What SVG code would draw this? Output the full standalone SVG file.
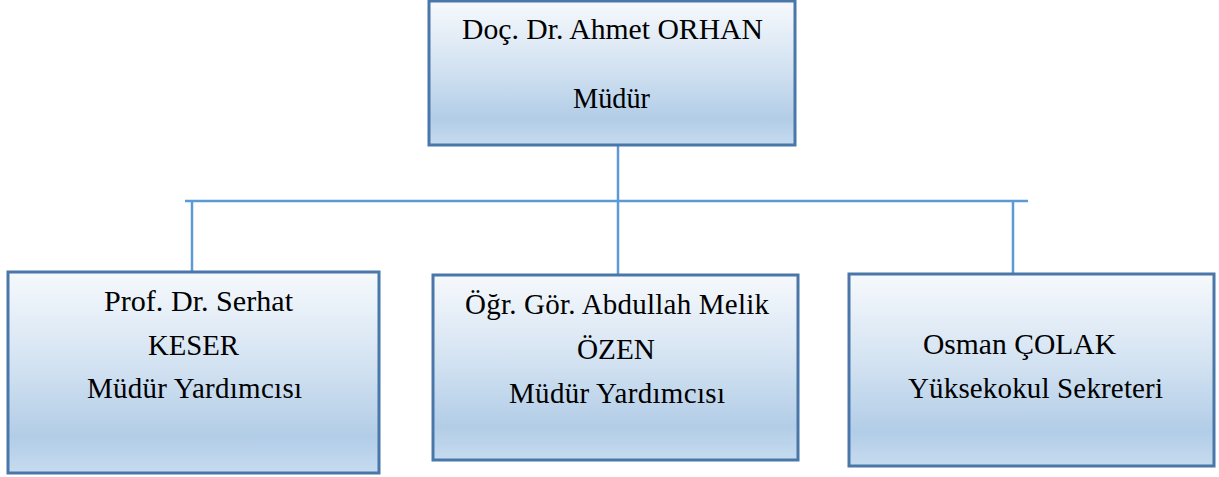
<svg xmlns="http://www.w3.org/2000/svg" width="1219" height="477" viewBox="0 0 1219 477">
<defs>
<linearGradient id="g" x1="0" y1="0" x2="0" y2="1">
<stop offset="0" stop-color="#f6f9fc"/>
<stop offset="0.45" stop-color="#d4e3f2"/>
<stop offset="0.82" stop-color="#b2cde7"/>
<stop offset="1" stop-color="#c6dbef"/>
</linearGradient>
</defs>
<style>
.box{fill:url(#g);stroke:#4a77a9;stroke-width:3}
.t{font-family:"Liberation Serif","Times New Roman",serif;font-size:29px;fill:#000}
.c{stroke:#5b9bd5;stroke-width:2.5;fill:none}
</style>
<g id="connectors">
<line class="c" x1="618" y1="146" x2="618" y2="201"/>
<line class="c" x1="185" y1="201" x2="1028" y2="201" stroke="#7aaadb"/>
<line class="c" x1="192" y1="201" x2="192" y2="272"/>
<line class="c" x1="618" y1="201" x2="618" y2="275"/>
<line class="c" x1="1013" y1="201" x2="1013" y2="274"/>
</g>
<g id="mudur">
<rect class="box" x="429" y="1" width="366" height="144"/>
<text class="t" x="462" y="39" textLength="301" lengthAdjust="spacingAndGlyphs">Doç. Dr. Ahmet ORHAN</text>
<text class="t" x="573" y="108" textLength="77" lengthAdjust="spacingAndGlyphs">Müdür</text>
</g>
<g id="keser">
<rect class="box" x="8" y="272" width="371" height="201"/>
<text class="t" x="104" y="311" textLength="189" lengthAdjust="spacingAndGlyphs">Prof. Dr. Serhat</text>
<text class="t" x="148" y="355" textLength="91" lengthAdjust="spacingAndGlyphs">KESER</text>
<text class="t" x="87" y="398" textLength="215" lengthAdjust="spacing">Müdür Yardımcısı</text>
</g>
<g id="ozen">
<rect class="box" x="433" y="275" width="365" height="185"/>
<text class="t" x="465" y="314" textLength="304" lengthAdjust="spacing">Öğr. Gör. Abdullah  Melik</text>
<text class="t" x="577" y="359" textLength="78" lengthAdjust="spacingAndGlyphs">ÖZEN</text>
<text class="t" x="509" y="403" textLength="216" lengthAdjust="spacing">Müdür Yardımcısı</text>
</g>
<g id="colak">
<rect class="box" x="849" y="274" width="365" height="192"/>
<text class="t" x="923" y="354" textLength="193" lengthAdjust="spacingAndGlyphs">Osman ÇOLAK</text>
<text class="t" x="908" y="398" textLength="255" lengthAdjust="spacing">Yüksekokul  Sekreteri</text>
</g>
</svg>
